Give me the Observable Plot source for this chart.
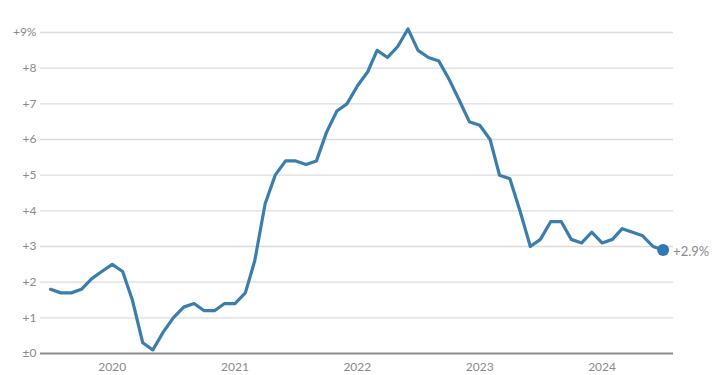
<!DOCTYPE html>
<html>
<head>
<meta charset="utf-8">
<script src="https://cdn.jsdelivr.net/npm/d3@7"></script>
<script src="https://cdn.jsdelivr.net/npm/@observablehq/plot@0.6"></script>
<style>
  html, body { margin: 0; padding: 0; background: #fff; }
  #chart svg { display: block; }
</style>
</head>
<body>
<div id="chart"></div>
<script>
const months = [
  "2019-07","2019-08","2019-09","2019-10","2019-11","2019-12",
  "2020-01","2020-02","2020-03","2020-04","2020-05","2020-06","2020-07","2020-08","2020-09","2020-10","2020-11","2020-12",
  "2021-01","2021-02","2021-03","2021-04","2021-05","2021-06","2021-07","2021-08","2021-09","2021-10","2021-11","2021-12",
  "2022-01","2022-02","2022-03","2022-04","2022-05","2022-06","2022-07","2022-08","2022-09","2022-10","2022-11","2022-12",
  "2023-01","2023-02","2023-03","2023-04","2023-05","2023-06","2023-07","2023-08","2023-09","2023-10","2023-11","2023-12",
  "2024-01","2024-02","2024-03","2024-04","2024-05","2024-06","2024-07"
];
const values = [
  1.8,1.7,1.7,1.8,2.1,2.3,
  2.5,2.3,1.5,0.3,0.1,0.6,1.0,1.3,1.4,1.2,1.2,1.4,
  1.4,1.7,2.6,4.2,5.0,5.4,5.4,5.3,5.4,6.2,6.8,7.0,
  7.5,7.9,8.5,8.3,8.6,9.1,8.5,8.3,8.2,7.7,7.1,6.5,
  6.4,6.0,5.0,4.9,4.0,3.0,3.2,3.7,3.7,3.2,3.1,3.4,
  3.1,3.2,3.5,3.4,3.3,3.0,2.9
];
const yTicks = [0,1,2,3,4,5,6,7,8,9];
const yTickLabels = ["±0","+1","+2","+3","+4","+5","+6","+7","+8","+9%"];
const yearTicks = ["2020","2021","2022","2023","2024"];
const lastLabel = "+2.9%";

const data = months.map((m, i) => ({date: new Date(m + "-01T00:00:00Z"), value: values[i]}));
const last = [data[data.length - 1]];

const lineColor = "#3b7dac";
const textColor = "#8a8a8a";

const chart = Plot.plot({
  width: 722,
  height: 375,
  marginLeft: 40,
  marginRight: 49,
  marginTop: 32,
  marginBottom: 22,
  style: {fontFamily: "Lato, 'Open Sans', sans-serif", background: "#fff"},
  x: {type: "utc", domain: [new Date("2019-06-01T00:00:00Z"), new Date("2024-08-01T00:00:00Z")]},
  y: {domain: [0, 9]},
  marks: [
    Plot.ruleY(yTicks.filter(d => d > 0), {stroke: "#dcdcdc", strokeWidth: 1.3}),
    Plot.ruleY([0], {stroke: "#8c8c8c", strokeWidth: 2.2}),
    Plot.axisY({
      ticks: yTicks,
      tickFormat: (d, i) => yTickLabels[yTicks.indexOf(d)],
      tickSize: 0,
      tickPadding: 4,
      fontSize: 12,
      color: textColor,
      label: null
    }),
    Plot.axisX({
      ticks: yearTicks.map(y => new Date(y + "-01-01T00:00:00Z")),
      tickFormat: d3.utcFormat("%Y"),
      tickSize: 0,
      tickPadding: 9,
      fontSize: 12,
      color: textColor,
      label: null
    }),
    Plot.line(data, {x: "date", y: "value", stroke: lineColor, strokeWidth: 3.2, strokeLinejoin: "round", strokeLinecap: "round"}),
    Plot.dot(last, {x: "date", y: "value", r: 6, fill: "#2f78b5", stroke: "none"}),
    Plot.text(last, {x: "date", y: "value", text: () => lastLabel, dx: 10, dy: 2, textAnchor: "start", fontSize: 13, fill: textColor})
  ]
});
document.getElementById("chart").appendChild(chart);
</script>
</body>
</html>
